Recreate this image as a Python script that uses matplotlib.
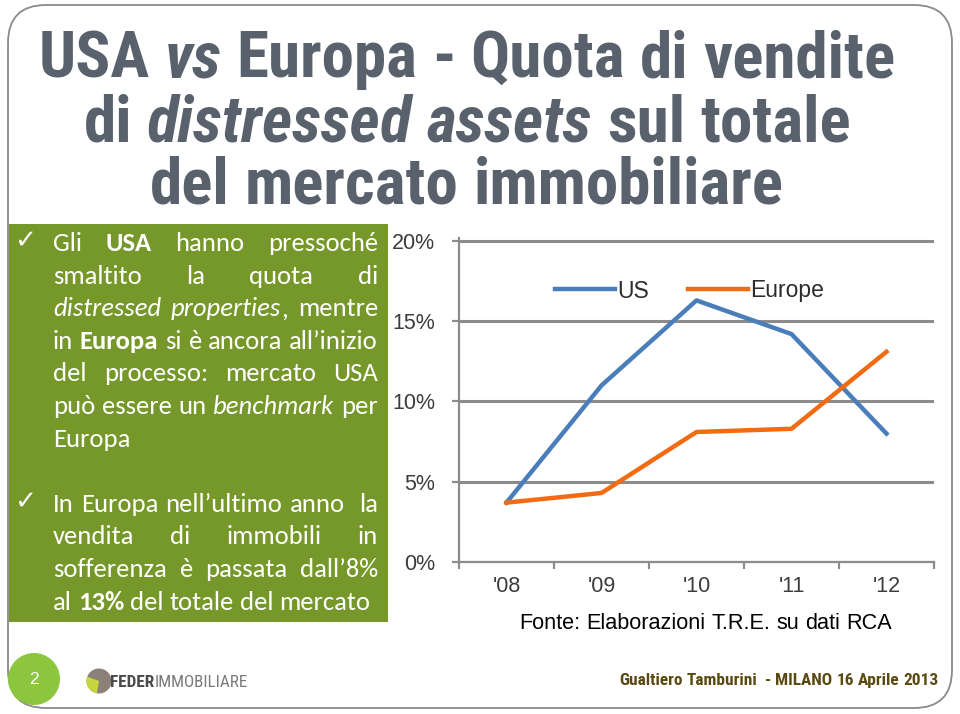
import matplotlib
matplotlib.use("Agg")
import matplotlib.pyplot as plt
from matplotlib import font_manager
from matplotlib.patches import FancyBboxPatch, Rectangle, Circle, Wedge

# dati del grafico (quota % di vendite distressed sul totale)
YEARS = ["'08", "'09", "'10", "'11", "'12"]
US = [3.7, 11.0, 16.3, 14.2, 8.0]
EUROPE = [3.7, 4.3, 8.1, 8.3, 13.1]
Y_TICKS = [0, 5, 10, 15, 20]
SERIES_NAMES = ["US", "Europe"]

TITLE_LINES = [
    [("USA ", "b"), ("vs", "bi"), (" Europa - Quota di vendite", "b")],
    [("di ", "b"), ("distressed assets", "bi"), (" sul totale", "b")],
    [("del mercato immobiliare", "b")],
]

# testo del riquadro verde: (runs, ultima riga del paragrafo?)
BOX_LINES = [
    ([("Gli ", "n"), ("USA", "b"), (" hanno pressoché", "n")], False),
    ([("smaltito la quota di", "n")], False),
    ([("distressed properties", "i"), (", mentre", "n")], False),
    ([("in ", "n"), ("Europa", "b"), (" si è ancora all’inizio", "n")], False),
    ([("del processo: mercato USA", "n")], False),
    ([("può essere un ", "n"), ("benchmark", "i"), (" per", "n")], False),
    ([("Europa", "n")], True),
    None,
    ([("In Europa nell’ultimo anno  la", "n")], False),
    ([("vendita di immobili in", "n")], False),
    ([("sofferenza è passata dall’8%", "n")], False),
    ([("al ", "n"), ("13%", "b"), (" del totale del mercato", "n")], True),
]

SOURCE = "Fonte: Elaborazioni T.R.E. su dati RCA"
FOOTER = "Gualtiero Tamburini  - MILANO 16 Aprile 2013"
PAGE = "2"

US_COLOR = "#4a7ebb"
EU_COLOR = "#f26b12"
GREEN = "#76982a"
TITLE_COLOR = "#58616c"


def has_font(name, **kw):
    try:
        font_manager.findfont(font_manager.FontProperties(family=name, **kw),
                              fallback_to_default=False)
        return True
    except ValueError:
        return False


def first_font(names, default):
    for n in names:
        if has_font(n):
            return n
    return default


NARROW = first_font(["Arial Narrow", "Liberation Sans Narrow", "Roboto Condensed",
                     "PT Sans Narrow", "Archivo Narrow"], "Liberation Sans")
ARIAL = "Liberation Sans"
BODY = first_font(["Carlito", "Lato"], "DejaVu Sans")

fig = plt.figure(figsize=(9.6, 7.14), dpi=100)
fig.patch.set_facecolor("white")
bg = fig.add_axes([0, 0, 1, 1])
bg.set_xlim(0, 960)
bg.set_ylim(714, 0)
bg.axis("off")
renderer = fig.canvas.get_renderer()


def props(style, base):
    p = dict(base)
    if "b" in style:
        p["fontweight"] = "bold"
    if "i" in style:
        p["fontstyle"] = "italic"
    return p


def split_words(runs):
    words, gaps, pending = [[]], [], 0
    for text, style in runs:
        for k, part in enumerate(text.split(" ")):
            if k > 0:
                pending += 1
            if not part:
                continue
            if words[-1] and pending:
                gaps.append(pending)
                words.append([])
            pending = 0
            words[-1].append((part, style))
    return words, gaps


def text_width(s, **kw):
    t = bg.text(0, 0, s, **kw)
    w = t.get_window_extent(renderer).width
    t.remove()
    return w


def natural_width(runs, **base):
    words, gaps = split_words(runs)
    w = sum(text_width(txt, **props(st, base)) for wd in words for txt, st in wd)
    sp = text_width("x x", **base) - text_width("xx", **base)
    return w + sp * sum(gaps)


def draw_runs(runs, y, x0, x1, align="left", **base):
    words, gaps = split_words(runs)
    items = []
    for wd in words:
        seg = []
        for txt, st in wd:
            t = bg.text(0, y, txt, va="baseline", ha="left", **props(st, base))
            seg.append((t, t.get_window_extent(renderer).width))
        items.append(seg)
    widths = [sum(w for _, w in seg) for seg in items]
    sp = text_width("x x", **base) - text_width("xx", **base)
    total = sum(widths) + sp * sum(gaps)
    if align == "justify" and gaps:
        sp = (x1 - x0 - sum(widths)) / sum(gaps)
        x = x0
    elif align == "center":
        x = (x0 + x1) / 2 - total / 2
    elif align == "right":
        x = x1 - total
    else:
        x = x0
    for i, seg in enumerate(items):
        for t, w in seg:
            t.set_x(x)
            x += w
        if i < len(gaps):
            x += sp * gaps[i]


def fit_size(runs, target, ref=20, **base):
    return ref * target / natural_width(runs, fontsize=ref, **base)


# cornice della slide
bg.add_patch(FancyBboxPatch((8, 5), 944, 703, boxstyle="round,pad=0,rounding_size=38",
                            facecolor="white", edgecolor="#8a8a8a", lw=1.3, zorder=0))

# titolo
tsize = fit_size(TITLE_LINES[0], 855, family=NARROW, color=TITLE_COLOR)
for runs, yb in zip(TITLE_LINES, [77, 141, 204]):
    draw_runs(runs, yb, 467, 467, align="center", family=NARROW,
              fontsize=tsize, color=TITLE_COLOR)

# riquadro verde con il testo
bg.add_patch(Rectangle((9, 224), 379, 398, facecolor=GREEN, edgecolor="none", zorder=1))
bsize = fit_size(BOX_LINES[-1][0], 317, family=BODY)
for i, line in enumerate(BOX_LINES):
    if line is None:
        continue
    runs, last = line
    yb = 251 + i * 32.6
    draw_runs(runs, yb, 53, 378, align="left" if last else "justify",
              family=BODY, fontsize=bsize, color="white", zorder=2)
for yb in [251, 251 + 8 * 32.6]:
    bg.text(25.5, yb - 10, "✓", family="DejaVu Sans", fontsize=19, color="white",
            ha="center", va="center", zorder=2)

# fonte
ssize = fit_size([(SOURCE, "n")], 371, family=ARIAL)
draw_runs([(SOURCE, "n")], 629, 519, 890, family=ARIAL, fontsize=ssize, color="black")

# piè di pagina
fsize = fit_size([(FOOTER, "b")], 319, family=NARROW)
draw_runs([(FOOTER, "b")], 685, 619, 938, family=NARROW, fontsize=fsize, color="#5a4a12")
bg.add_patch(Circle((34, 679), 26, facecolor="#8cc63f", edgecolor="none", zorder=1))
bg.text(34, 680, PAGE, ha="center", va="center", color="white", family=ARIAL,
        fontsize=12.5, zorder=2)

# logo Federimmobiliare
bg.add_patch(Circle((99, 681), 12.5, facecolor="#8c8178", edgecolor="none", zorder=1))
bg.add_patch(Wedge((99, 681), 12.5, 100, 200, facecolor="#c6d63c", edgecolor="none", zorder=1))
logo = [("FEDER", "b"), ("IMMOBILIARE", "n")]
lsize = fit_size(logo, 138, family=NARROW)
t1 = bg.text(110, 687, "FEDER", family=NARROW, fontweight="bold", fontsize=lsize,
             color="#4a4a4a", va="baseline")
w1 = t1.get_window_extent(renderer).width
bg.text(110 + w1, 687, "IMMOBILIARE", family=NARROW, fontsize=lsize,
        color="#7a7a7a", va="baseline")

# grafico
x_px0, x_px1, y_px0, y_px20 = 459, 934, 562, 241
ymax = 20.2
top_px = y_px0 - (y_px0 - y_px20) * ymax / 20
ax = fig.add_axes([x_px0 / 960, 1 - y_px0 / 714, (x_px1 - x_px0) / 960,
                   (y_px0 - top_px) / 714])
ax.set_facecolor("white")
xs = range(len(YEARS))
ax.plot(xs, US, color=US_COLOR, lw=3.2, label=SERIES_NAMES[0], zorder=3)
ax.plot(xs, EUROPE, color=EU_COLOR, lw=3.2, label=SERIES_NAMES[1], zorder=3)
ax.set_xlim(-0.5, len(YEARS) - 0.5)
ax.set_ylim(0, ymax)
ax.set_yticks(Y_TICKS)
ax.set_yticklabels([f"{v}%" for v in Y_TICKS])
ax.set_xticks([i - 0.5 for i in range(len(YEARS) + 1)])
ax.set_xticklabels([])
ax.set_xticks(list(xs), minor=True)
ax.set_xticklabels(YEARS, minor=True)
ax.yaxis.grid(True, color="#8c8c8c", lw=2.2)
ax.set_axisbelow(True)
for s in ["top", "right"]:
    ax.spines[s].set_visible(False)
for s in ["left", "bottom"]:
    ax.spines[s].set_color("#8c8c8c")
    ax.spines[s].set_linewidth(1.6)
ax.tick_params(axis="y", length=5, width=1.6, color="#8c8c8c", pad=12,
               labelsize=15.5, labelcolor="#3c3c3c")
ax.tick_params(axis="x", which="major", length=5, width=1.6, color="#8c8c8c")
ax.tick_params(axis="x", which="minor", length=0, pad=10, labelsize=15.5,
               labelcolor="#3c3c3c")
for lab in ax.get_yticklabels() + ax.get_xticklabels(minor=True):
    lab.set_family(ARIAL)
ax.legend(loc="center", bbox_to_anchor=(689.5 / 960, 1 - 291 / 714),
          bbox_transform=fig.transFigure, ncol=2, frameon=False,
          prop={"family": ARIAL, "size": 16.5}, handlelength=2.6,
          handletextpad=0.1, columnspacing=1.7, borderpad=0, labelcolor="#2c2c2c")

fig.savefig("out.png", dpi=100, facecolor="white")
